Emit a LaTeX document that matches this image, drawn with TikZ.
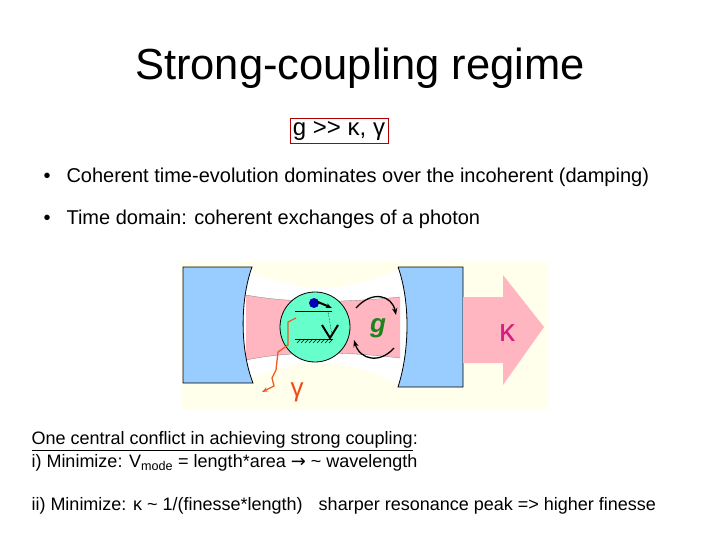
\documentclass[tikz,border=0pt]{standalone}
\usepackage{fontspec}
\setmainfont{Liberation Sans}
\usetikzlibrary{arrows.meta,decorations.pathmorphing}
\definecolor{mblue}{RGB}{153,204,255}
\definecolor{mpink}{RGB}{255,182,193}
\definecolor{mcream}{RGB}{255,255,235}
\definecolor{mgreen}{RGB}{102,255,204}
\definecolor{morange}{RGB}{240,90,30}
\definecolor{mmag}{RGB}{210,30,130}
\definecolor{mdgreen}{RGB}{30,130,30}
\begin{document}
\begin{tikzpicture}[x=1pt,y=-1pt,
  body/.style={anchor=west,font=\fontsize{20}{24}\selectfont},
  low/.style={anchor=west,font=\fontsize{18}{21}\selectfont},
  mirror/.style={fill=mblue,draw=black,line width=0.8pt}]
\useasboundingbox (0,0) rectangle (720,540);
\node (title) at (360,68) {\fontsize{43.5}{48}\selectfont Strong-coupling regime};
\node[draw=red!70!black,line width=0.8pt,inner sep=3pt] (cond) at (339,131) {\fontsize{24}{28}\selectfont g {>}{>} κ, γ};
\node[body] (b1) at (40,177) {•\hspace{16pt}Coherent time-evolution dominates over the incoherent (damping)};
\node[body] (b2) at (40,219) {•\hspace{16pt}Time domain: coherent exchanges of a photon};
% figure
\fill[mcream] (182,262) rectangle (548,410);
\fill[white] (240,267) .. controls (300,295) and (340,295) .. (405,267) -- (405,387) .. controls (340,355) and (300,355) .. (240,383) -- cycle;
\fill[mpink] (246,295) .. controls (290,303) and (340,303) .. (400,297) -- (400,358) .. controls (340,351) and (290,351) .. (246,360) -- cycle;
\draw[line width=0.3pt,gray] (246,295) .. controls (290,303) and (340,303) .. (400,297);
\draw[line width=0.3pt,gray] (246,360) .. controls (290,351) and (340,351) .. (400,358);
\path[mirror] (183,267) -- (252,267) .. controls (240,300) and (240,350) .. (253,383) -- (183,383) -- cycle;
\path[mirror] (398,267) -- (463,267) -- (463,387) -- (398,387) .. controls (410,350) and (410,300) .. (398,267);
\fill[mpink] (463,297) -- (503,297) -- (503,275) -- (544,327) -- (503,385) -- (503,363) -- (463,363) -- cycle;
\node[circle,fill=mgreen,draw=black,line width=0.8pt,minimum size=70pt,inner sep=0pt] (atom) at (315,327) {};
\draw[line width=0.6pt] (295,311) -- (332,311);
\draw[line width=0.6pt] (295,339) -- (332,339);
\foreach \i in {0,...,8} \draw[line width=0.4pt] (297+\i*4,343) -- (301+\i*4,339);
\fill[blue!70!black] (314,303) circle (5pt);
\draw[line width=2pt,-{Stealth[length=6pt]}] (318,302) -- (332,308);
\draw[line width=2pt] (322,325) -- (330,338) -- (338,325);
\draw[densely dotted,line width=0.5pt] (328,312) -- (332,335);
\draw[line width=1.3pt,-{Stealth[length=7pt]}] (356,308) .. controls (372,290) and (392,295) .. (396,315);
\draw[line width=1.3pt,-{Stealth[length=7pt]}] (394,348) .. controls (380,364) and (360,360) .. (354,340);
\node[font=\fontsize{26}{26}\selectfont\bfseries\itshape,text=mdgreen] (g) at (378,328) {g};
\node[font=\fontsize{32}{32}\selectfont,text=mmag] (kap) at (507,333) {κ};
\node[font=\fontsize{26}{26}\selectfont,text=morange!80!red] (gam) at (297,392) {γ};
\coordinate (gs) at (296,318);
\coordinate (ge) at (262,392);
\draw[morange,line width=1.3pt,-{Stealth[length=6pt]}] (gs) -- (288,322) -- (288,345) -- (278,352) -- (276,370) -- (272,378) -- (274,386) -- (ge);
% bottom
\node[low] (c1) at (28,441) {\underline{One central conflict in achieving strong coupling}:};
\node[low] (c2) at (28,463) {i) Minimize: V\textsubscript{mode} = length*area {\fontspec{DejaVu Sans}→} \textasciitilde\ wavelength};
\node[low] (c3) at (28,506) {ii) Minimize: κ \textasciitilde\ 1/(finesse*length)\hspace{16pt}sharper resonance peak => higher finesse};
\end{tikzpicture}
\end{document}
